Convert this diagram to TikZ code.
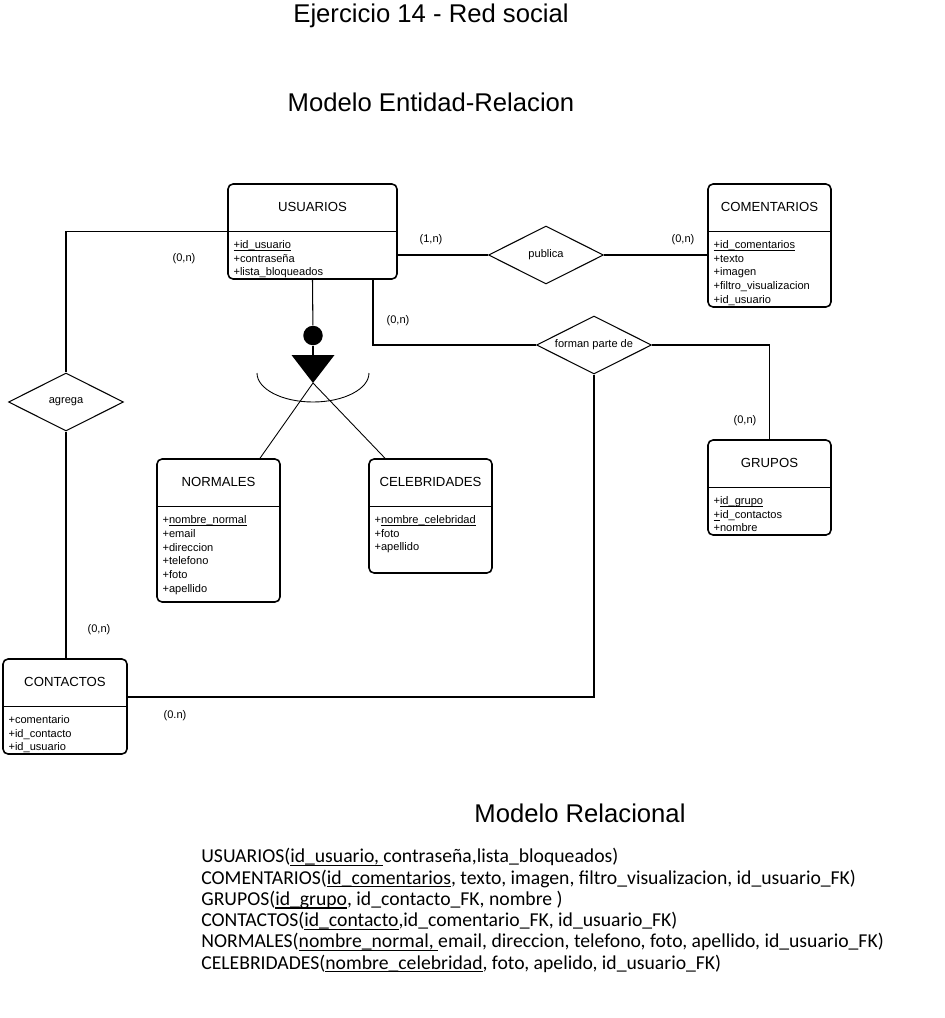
\documentclass[tikz,border=0pt]{standalone}
\usepackage{fontspec}
\setmainfont{Liberation Sans}
\newfontfamily\relfont{Carlito}
\usetikzlibrary{shapes.geometric}
\newcommand{\clave}[1]{\setbox0\hbox{#1}\rlap{\rule[-0.17em]{\wd0}{0.06em}}\box0}

\begin{document}
\begin{tikzpicture}[x=0.02cm,y=-0.02cm,
  entidad/.style={draw,line width=0.9pt,rounded corners=0.1cm,inner sep=0pt},
  titulo/.style={font=\fontsize{7.5}{9}\selectfont},
  atrib/.style={anchor=north west,inner sep=0pt,align=left,font=\fontsize{6.3}{7.8}\selectfont},
  relacion/.style={draw,diamond,aspect=2,inner sep=0pt,line width=0.6pt,minimum width=2.3cm,minimum height=1.16cm,font=\fontsize{6.3}{7.8}\selectfont},
  card/.style={font=\fontsize{6.3}{7.8}\selectfont},
  conn/.style={line width=0.6pt},
  encabezado/.style={font=\fontsize{14.6}{17}\selectfont}]
\path[use as bounding box] (0,0) rectangle (944,1018);
\node[encabezado] (tit) at (431,16) {Ejercicio 14 - Red social};
\node[encabezado] (er) at (431,102) {Modelo Entidad-Relacion};
% entidades
\node[entidad,minimum width=3.38cm,minimum height=1.9cm] (usu) at (312.5,231.5) {};
\draw[line width=0.8pt] ([yshift=-0.96cm]usu.north west) -- ([yshift=-0.96cm]usu.north east);
\node[titulo] (usu-t) at ([yshift=-0.48cm]usu.north) {USUARIOS};
\node[atrib] (usu-a) at ([xshift=0.12cm,yshift=-1.14cm]usu.north west) {\clave{+id\_usuario}\\+contraseña\\+lista\_bloqueados};
\node[entidad,minimum width=2.46cm,minimum height=2.46cm] (com) at (769.5,245.5) {};
\draw[line width=0.8pt] ([yshift=-0.96cm]com.north west) -- ([yshift=-0.96cm]com.north east);
\node[titulo] (com-t) at ([yshift=-0.48cm]com.north) {COMENTARIOS};
\node[atrib] (com-a) at ([xshift=0.12cm,yshift=-1.14cm]com.north west) {\clave{+id\_comentarios}\\+texto\\+imagen\\+filtro\_visualizacion\\+id\_usuario};
\node[entidad,minimum width=2.46cm,minimum height=2.86cm] (nor) at (218.5,530.5) {};
\draw[line width=0.8pt] ([yshift=-0.96cm]nor.north west) -- ([yshift=-0.96cm]nor.north east);
\node[titulo] (nor-t) at ([yshift=-0.48cm]nor.north) {NORMALES};
\node[atrib] (nor-a) at ([xshift=0.12cm,yshift=-1.14cm]nor.north west) {+\clave{nombre\_normal}\\+email\\+direccion\\+telefono\\+foto\\+apellido};
\node[entidad,minimum width=2.46cm,minimum height=2.28cm] (cel) at (430.5,516) {};
\draw[line width=0.8pt] ([yshift=-0.96cm]cel.north west) -- ([yshift=-0.96cm]cel.north east);
\node[titulo] (cel-t) at ([yshift=-0.48cm]cel.north) {CELEBRIDADES};
\node[atrib] (cel-a) at ([xshift=0.12cm,yshift=-1.14cm]cel.north west) {+\clave{nombre\_celebridad}\\+foto\\+apellido};
\node[entidad,minimum width=2.46cm,minimum height=1.9cm] (gru) at (769.5,487.5) {};
\draw[line width=0.8pt] ([yshift=-0.96cm]gru.north west) -- ([yshift=-0.96cm]gru.north east);
\node[titulo] (gru-t) at ([yshift=-0.48cm]gru.north) {GRUPOS};
\node[atrib] (gru-a) at ([xshift=0.12cm,yshift=-1.14cm]gru.north west) {+\clave{id\_grupo}\\\clave{+}id\_contactos\\+nombre};
\node[entidad,minimum width=2.48cm,minimum height=1.9cm] (con) at (65,706.5) {};
\draw[line width=0.8pt] ([yshift=-0.96cm]con.north west) -- ([yshift=-0.96cm]con.north east);
\node[titulo] (con-t) at ([yshift=-0.48cm]con.north) {CONTACTOS};
\node[atrib] (con-a) at ([xshift=0.12cm,yshift=-1.14cm]con.north west) {+comentario\\+id\_contacto\\+id\_usuario};
% relaciones
\node[relacion] (pub) at (546,255) {publica};
\node[relacion] (for) at (594,345) {forman parte de};
\node[relacion] (agr) at (66,402) {agrega};
\draw[conn] (usu.east |- pub.west) -- (pub.west);
\draw[conn] (pub.east) -- (com.west |- pub.east);
\draw[conn] ([xshift=1.21cm]usu.south) |- (for.west);
\draw[conn] (for.east) -| (gru.north);
\draw[conn] (for.south) |- ([yshift=0.19cm]con.east);
\draw[conn] ([yshift=-0.96cm]usu.north west) -| (agr.north);
\draw[conn] (agr.south) -- (agr.south |- con.north);
% jerarquia
\node[circle,fill,inner sep=0pt,minimum size=0.39cm] (isa) at (313,335.5) {};
\coordinate (tri) at (313,383);
\draw[conn] (usu.south) -- (isa);
\draw[conn] (isa.south) -- ([yshift=0.56cm]tri);
\draw[line width=0.5pt] (tri) -- ([xshift=0.83cm]nor.north);
\draw[line width=0.5pt] (tri) -- ([xshift=-0.91cm]cel.north);
\fill (tri) -- ++(-21.5,-28) -- ++(43,0) -- cycle;
\draw[line width=0.5pt] (257,373) arc[start angle=180,end angle=360,x radius=1.12cm,y radius=0.58cm];
% cardinalidades
\node[card] (c1) at (184,259) {(0,n)};
\node[card] (c2) at (431,240) {(1,n)};
\node[card] (c3) at (683,240) {(0,n)};
\node[card] (c4) at (398,321) {(0,n)};
\node[card] (c5) at (745,421) {(0,n)};
\node[card] (c6) at (99,630) {(0,n)};
\node[card] (c7) at (175,716) {(0.n)};
% modelo relacional
\node[encabezado] (mr) at (580,813) {Modelo Relacional};
\node[anchor=north west,inner sep=0pt,align=left,font=\relfont\fontsize{11.2}{12.1}\selectfont] (rel) at (201,848) {USUARIOS(\clave{id\_usuario, }contraseña,lista\_bloqueados)\\
COMENTARIOS(\clave{id\_comentarios}, texto, imagen, filtro\_visualizacion, id\_usuario\_FK)\\
GRUPOS(\clave{id\_grupo}, id\_contacto\_FK, nombre )\\
CONTACTOS(\clave{id\_contacto},id\_comentario\_FK, id\_usuario\_FK)\\
NORMALES(\clave{nombre\_normal, }email, direccion, telefono, foto, apellido, id\_usuario\_FK)\\
CELEBRIDADES(\clave{nombre\_celebridad}, foto, apelido, id\_usuario\_FK)};
\end{tikzpicture}
\end{document}
